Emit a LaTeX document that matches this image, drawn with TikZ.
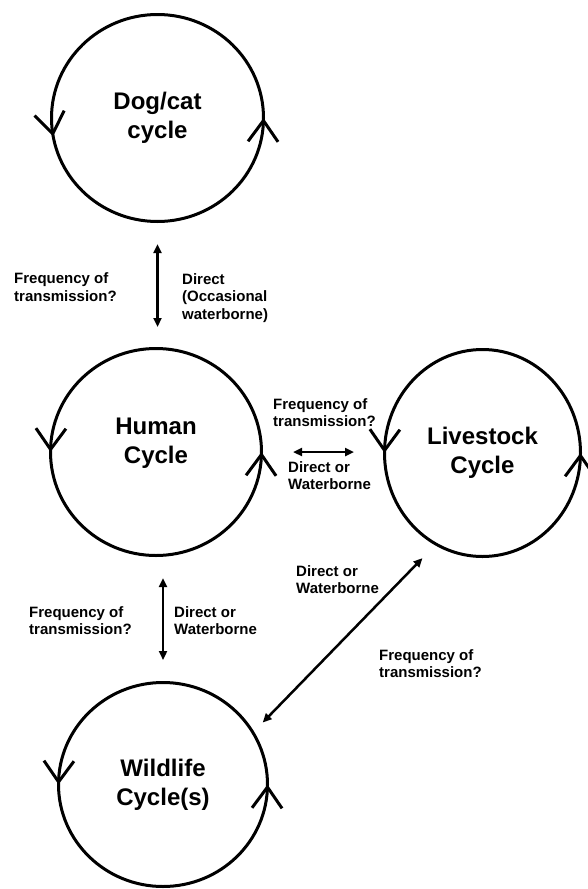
\documentclass[tikz,border=0pt]{standalone}
\usepackage{fontspec}
\setmainfont{Liberation Sans}
\usetikzlibrary{arrows.meta,shapes.geometric}

\begin{document}
\begin{tikzpicture}[
  x=1pt, y=-1pt,
  ring/.style={draw, ellipse, line width=3pt, inner sep=0pt, outer sep=0pt, align=center, font=\fontsize{24}{29}\selectfont\bfseries},
  note/.style={anchor=north west, inner sep=0pt, align=left, font=\fontsize{15}{17.5}\selectfont\bfseries},
  link/.style={{Triangle[length=9pt,width=8pt]}-{Triangle[length=9pt,width=8pt]}, line width=2.5pt},
  turn/.style={-{Straight Barb[length=21pt,width=30pt]}, line width=3pt}
]
\useasboundingbox (0,0) rectangle (588,889);

% the four cycles
\node[ring, minimum width=212pt, minimum height=207pt] (dog) at (157.5,118) {Dog/cat\\cycle};
\node[ring, minimum width=211pt, minimum height=207pt, text depth=22.5pt] (human) at (156,452) {Human\\Cycle};
\node[ring, minimum width=196pt, minimum height=207pt] (livestock) at (482.5,453) {Livestock\\Cycle};
\node[ring, minimum width=209pt, minimum height=204pt] (wildlife) at (163,784.5) {Wildlife\\Cycle(s)};

% direction marks on each cycle
\draw[turn] (dog.188) -- (dog.190);
\draw[turn] (dog.-2) -- (dog.0);
\draw[turn] (human.178) -- (human.180);
\draw[turn] (human.-2) -- (human.0);
\draw[turn] (livestock.178) -- (livestock.180);
\draw[turn] (livestock.-2) -- (livestock.0);
\draw[turn] (wildlife.178) -- (wildlife.180);
\draw[turn] (wildlife.-2) -- (wildlife.0);

% transmission routes
\draw[link, shorten <=22.5pt, shorten >=21.5pt] (dog.south) -- (dog.south |- human.north);
\draw[link, shorten <=31.5pt, shorten >=30.5pt] (human.east) -- (human.east -| livestock.west);
\draw[link, shorten <=22.5pt, shorten >=22.5pt] (wildlife.north |- human.south) -- (wildlife.north);
\draw[link, shorten <=19.5pt, shorten >=14pt] (livestock.243) -- (wildlife.30);

% labels
\node[note] (dhfreq) at (14,272.7) {Frequency of\\transmission?};
\node[note] (dhroute) at (182,273.2) {Direct\\(Occasional\\waterborne)};
\node[note] (hlfreq) at (273,398.2) {Frequency of\\transmission?};
\node[note] (hlroute) at (288,461.2) {Direct or\\Waterborne};
\node[note] (hwfreq) at (29,606.2) {Frequency of\\transmission?};
\node[note] (hwroute) at (174,606.2) {Direct or\\Waterborne};
\node[note] (lwroute) at (296,565.2) {Direct or\\Waterborne};
\node[note] (lwfreq) at (379,649.2) {Frequency of\\transmission?};

\end{tikzpicture}
\end{document}
